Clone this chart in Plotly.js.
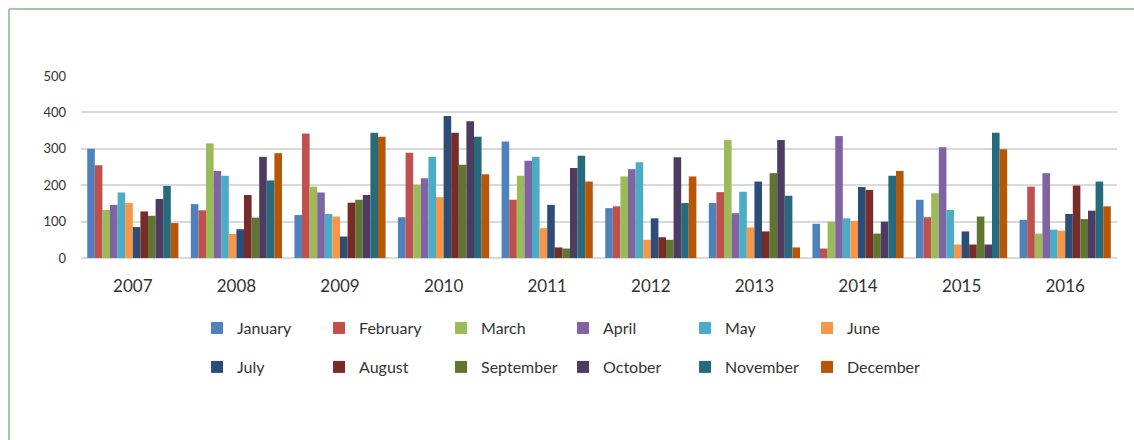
<!DOCTYPE html>
<html>
<head>
<meta charset="utf-8">
<script src="https://cdn.plot.ly/plotly-3.0.1.min.js"></script>
<style>
  html, body { margin: 0; padding: 0; background: #ffffff; }
  #chart { width: 1134px; height: 440px; }
</style>
</head>
<body>
<div id="chart"></div>
<script>
// Monthly values per year, 2007–2016
const years = ['2007', '2008', '2009', '2010', '2011', '2012', '2013', '2014', '2015', '2016'];
const months = ['January', 'February', 'March', 'April', 'May', 'June',
                'July', 'August', 'September', 'October', 'November', 'December'];

const january   = [300, 148, 118, 112, 320, 137, 151,  94, 160, 105];
const february  = [255, 131, 342, 289, 160, 142, 181,  26, 112, 196];
const march     = [132, 315, 196, 201, 226, 224, 324, 100, 178,  67];
const april     = [146, 239, 180, 219, 267, 244, 123, 335, 304, 233];
const may       = [180, 226, 121, 278, 278, 263, 182, 109, 132,  78];
const june      = [151,  66, 114, 167,  82,  50,  84, 102,  37,  75];
const july      = [ 85,  79,  59, 390, 146, 109, 210, 195,  73, 121];
const august    = [128, 173, 152, 344,  29,  57,  73, 187,  37, 199];
const september = [116, 111, 160, 256,  26,  50, 233,  67, 114, 107];
const october   = [162, 278, 173, 376, 247, 277, 324, 100,  37, 130];
const november  = [198, 213, 344, 333, 281, 151, 171, 226, 344, 210];
const december  = [ 96, 288, 333, 230, 210, 224,  29, 239, 299, 142];

const series = [january, february, march, april, may, june,
                july, august, september, october, november, december];

const colors = ['#4F81BD', '#C0504D', '#9BBB59', '#8064A2', '#4BACC6', '#F79646',
                '#2C4D75', '#772C2A', '#5F7530', '#4D3B62', '#276A7C', '#B65708'];

const traces = series.map((vals, i) => ({
  type: 'bar',
  name: months[i],
  x: years,
  y: vals,
  marker: { color: colors[i], line: { width: 0 } },
  legend: i < 6 ? 'legend' : 'legend2',
  hoverinfo: 'x+y+name'
}));

const legendCommon = {
  orientation: 'h',
  xanchor: 'left',
  yanchor: 'middle',
  entrywidth: 77,
  entrywidthmode: 'pixels',
  font: { family: 'Lato, "Open Sans", sans-serif', size: 16, color: '#333333' },
  bgcolor: 'rgba(0,0,0,0)',
  traceorder: 'normal',
  itemclick: false,
  itemdoubleclick: false
};

const layout = {
  width: 1134,
  height: 440,
  margin: { l: 81, r: 17, t: 76, b: 182 },
  paper_bgcolor: '#ffffff',
  plot_bgcolor: '#ffffff',
  barmode: 'group',
  bargap: 0.12,
  bargroupgap: 0,
  font: { family: 'Lato, "Open Sans", sans-serif', color: '#404040' },
  xaxis: {
    type: 'category',
    showgrid: false,
    showline: false,
    ticks: '',
    ticklabelstandoff: 16,
    tickfont: { size: 17, color: '#333333' }
  },
  yaxis: {
    range: [0, 500],
    tickvals: [0, 100, 200, 300, 400, 500],
    showgrid: true,
    gridcolor: '#d9d9d9',
    gridwidth: 2,
    zeroline: true,
    zerolinecolor: '#d9d9d9',
    zerolinewidth: 2,
    showline: false,
    ticks: '',
    ticklabelstandoff: 14,
    tickfont: { size: 13, color: '#333333' }
  },
  legend: Object.assign({}, legendCommon, { x: 0.112, y: -0.385 }),
  legend2: Object.assign({}, legendCommon, { x: 0.112, y: -0.599 }),
  shapes: [
    // green frame around the chart
    { type: 'line', xref: 'paper', yref: 'paper', x0: -0.0695, x1: -0.0695, y0: -1.0, y1: 1.368,
      line: { color: '#9fcc9f', width: 2 } },
    { type: 'line', xref: 'paper', yref: 'paper', x0: -0.0695, x1: 1.0164, y0: 1.368, y1: 1.368,
      line: { color: '#9fcc9f', width: 2 } }
  ],
  showlegend: true
};

Plotly.newPlot('chart', traces, layout, { displayModeBar: false, staticPlot: false });
</script>
</body>
</html>
